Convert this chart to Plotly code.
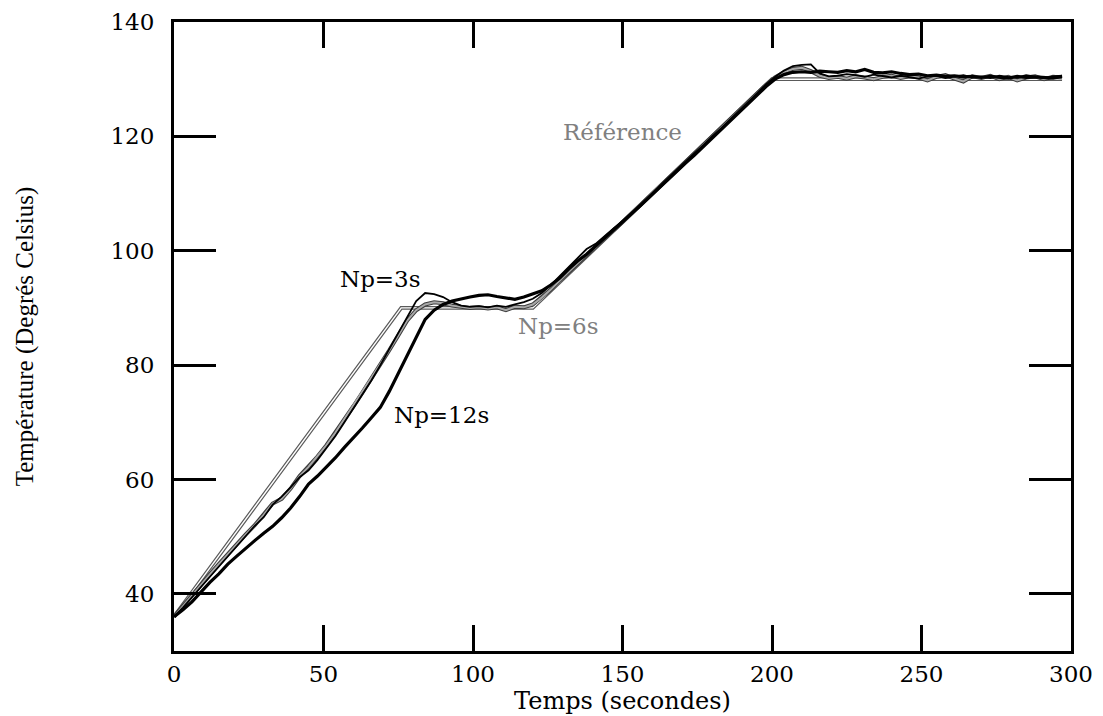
import plotly.graph_objects as go

# ---------------- data ----------------
ref_t = [0, 76, 120, 200, 297]
ref_T = [36, 90, 90, 130, 130]

t = list(range(0, 298, 3))

np3 = [36.0, 37.6, 39.4, 41.2, 43.0, 44.8, 46.4, 48.2, 50.0, 51.9,
       53.4, 55.6, 57.0, 58.6, 60.4, 61.6, 63.4, 65.4, 67.6, 70.0,
       72.4, 74.8, 77.3, 80.0, 82.8, 85.6, 88.6, 91.2, 92.6, 92.4,
       91.9, 91.0, 90.4, 90.2, 90.3, 90.1, 90.4, 90.2, 90.6, 91.0,
       91.6, 92.6, 94.0, 95.6, 97.2, 98.8, 100.3, 101.2, 102.6, 103.9,
       105.1, 106.6, 108.1, 109.6, 111.0, 112.5, 114.0, 115.5, 117.0, 118.4,
       120.0, 121.4, 122.9, 124.4, 126.0, 127.5, 129.1, 130.4, 131.5, 132.3,
       132.5, 132.6, 131.0, 130.5, 130.6, 130.9, 130.7, 130.4, 130.8, 130.5,
       130.3, 130.6, 130.4, 130.1, 130.5, 130.6, 130.2, 130.4, 130.7, 130.3,
       130.5, 130.2, 130.6, 130.4, 130.3, 130.7, 130.4, 130.2, 130.5, 130.6]

np6 = [36.0, 37.9, 39.8, 41.6, 43.4, 45.2, 47.0, 48.7, 50.4, 52.0,
       53.8, 55.8, 56.6, 58.4, 60.6, 62.2, 64.0, 66.0, 68.2, 70.6,
       72.8, 75.2, 77.6, 80.0, 82.6, 85.2, 87.8, 89.6, 90.6, 91.0,
       90.8, 90.4, 90.2, 90.0, 90.1, 89.9, 90.1, 89.6, 90.2, 90.1,
       90.6, 91.8, 93.2, 94.8, 96.3, 97.8, 99.3, 100.6, 102.1, 103.6,
       105.0, 106.5, 108.0, 109.5, 111.1, 112.4, 113.9, 115.5, 117.0, 118.5,
       120.0, 121.5, 123.0, 124.5, 126.0, 127.5, 129.0, 130.3, 131.2, 131.8,
       132.0, 131.4, 130.6, 130.2, 130.4, 130.1, 130.5, 130.3, 130.0, 130.4,
       130.6, 130.2, 130.5, 130.3, 129.8, 130.4, 130.7, 130.1, 129.6, 130.5,
       130.2, 130.6, 130.0, 130.4, 129.8, 130.3, 130.5, 130.0, 130.4, 130.3]

np12 = [36.0, 37.2, 38.6, 40.4, 42.0, 43.5, 45.2, 46.6, 48.0, 49.3,
        50.6, 51.8, 53.3, 55.0, 57.0, 59.2, 60.6, 62.2, 63.8, 65.6,
        67.2, 69.0, 70.8, 72.6, 75.4, 78.6, 81.8, 85.0, 88.0, 89.6,
        90.6, 91.2, 91.6, 91.9, 92.2, 92.3, 92.0, 91.7, 91.5, 91.9,
        92.4, 93.0, 94.0, 95.2, 96.8, 98.2, 99.4, 100.8, 102.2, 103.7,
        105.1, 106.4, 107.9, 109.4, 110.9, 112.3, 113.8, 115.3, 116.7, 118.2,
        119.7, 121.2, 122.7, 124.2, 125.7, 127.2, 128.7, 130.0, 130.8, 131.2,
        131.3, 131.2, 131.4, 131.3, 131.2, 131.5, 131.3, 131.7, 131.2, 131.1,
        131.3, 131.0, 130.8, 130.9, 130.6, 130.7, 130.5, 130.6, 130.4, 130.5,
        130.3, 130.5, 130.4, 130.2, 130.5, 130.3, 130.4, 130.3, 130.2, 130.5]

x_ticks = [0, 50, 100, 150, 200, 250, 300]
y_ticks = [40, 60, 80, 100, 120, 140]

labels = ["Np=3s", "Np=12s", "Np=6s", "Référence"]

# ---------------- figure ----------------
fig = go.Figure()

# reference: hollow double line
fig.add_trace(go.Scatter(x=ref_t, y=ref_T, mode="lines",
                         line=dict(color="#5a5a5a", width=3.8), showlegend=False))
fig.add_trace(go.Scatter(x=ref_t, y=ref_T, mode="lines",
                         line=dict(color="#ffffff", width=1.4), showlegend=False))
# Np=6s: hatched gray line
fig.add_trace(go.Scatter(x=t, y=np6, mode="lines",
                         line=dict(color="#3c3c3c", width=4), showlegend=False))
fig.add_trace(go.Scatter(x=t, y=np6, mode="lines",
                         line=dict(color="#a8a8a8", width=2), showlegend=False))
# Np=3s: thin black
fig.add_trace(go.Scatter(x=t, y=np3, mode="lines",
                         line=dict(color="#000000", width=1.8), showlegend=False))
# Np=12s: thick black
fig.add_trace(go.Scatter(x=t, y=np12, mode="lines",
                         line=dict(color="#000000", width=3.2), showlegend=False))

hfont = "DejaVu Serif"

ann = [
    (69, 95.0, labels[0], "#000000"),
    (89.5, 71.3, labels[1], "#000000"),
    (128.5, 86.8, labels[2], "#808080"),
    (150, 120.7, labels[3], "#808080"),
]
for ax_, ay_, txt, col in ann:
    fig.add_annotation(x=ax_, y=ay_, text=txt, showarrow=False,
                       font=dict(family=hfont, size=23, color=col))

fig.update_xaxes(range=[0, 300], tickvals=x_ticks, ticks="inside", ticklen=26,
                 tickwidth=2.5, tickcolor="black", showline=True, linewidth=3,
                 linecolor="black", mirror="ticks", showgrid=False, zeroline=False,
                 tickfont=dict(family=hfont, size=23, color="black"),
                 title=dict(text="Temps (secondes)", standoff=4,
                            font=dict(family=hfont, size=24, color="black")))
fig.update_yaxes(range=[30, 140], tickvals=y_ticks, ticks="inside", ticklen=42,
                 tickwidth=2.5, tickcolor="black", showline=True, linewidth=3,
                 linecolor="black", mirror="ticks", showgrid=False, zeroline=False,
                 ticklabelstandoff=12, ticklabeloverflow="allow",
                 tickfont=dict(family=hfont, size=23, color="black"),
                 title=dict(text="Température (Degrés Celsius)", standoff=70,
                            font=dict(family="Liberation Serif", size=25, color="black")))

fig.update_layout(width=1103, height=716, plot_bgcolor="white", paper_bgcolor="white",
                  margin=dict(l=174, r=32, t=9, b=56), showlegend=False)

fig.write_html("out.html", config={"displayModeBar": False},
               post_script="document.body.style.margin='0';document.body.style.overflow='hidden';")
